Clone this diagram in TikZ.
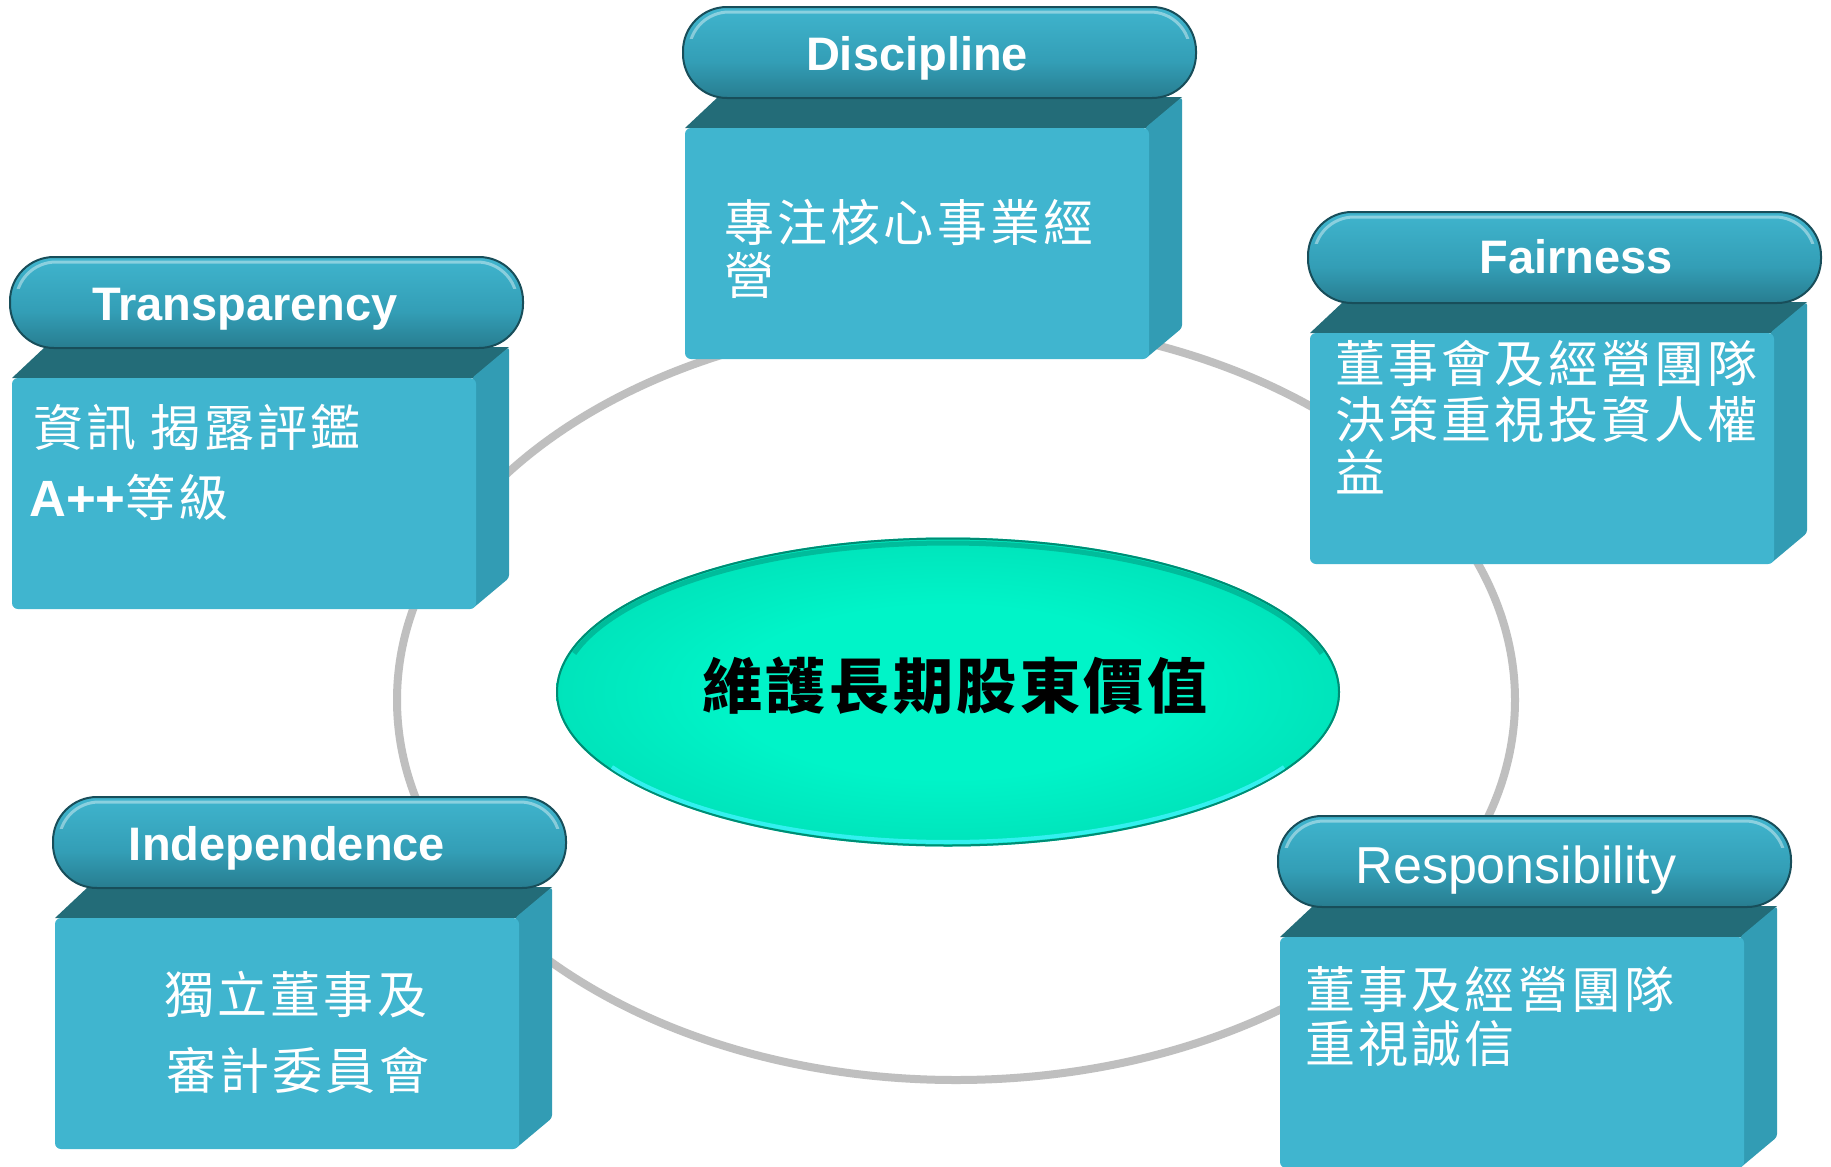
\documentclass[tikz,border=0pt]{standalone}
\usepackage{fontspec}
\setmainfont{Liberation Sans}
\newfontfamily\cjk[LetterSpace=6.5]{Noto Sans CJK TC}
\newfontfamily\cjkc[LetterSpace=6]{Noto Sans CJK TC}
\definecolor{frontc}{HTML}{40B5CF}
\definecolor{topc}{HTML}{236C78}
\definecolor{sidec}{HTML}{329CB4}
\definecolor{pilldark}{HTML}{174B57}
\definecolor{pillbot}{HTML}{216A7A}
\definecolor{pillmid}{HTML}{339EB6}
\definecolor{pillhi}{HTML}{41B7D0}
\definecolor{pilltop}{HTML}{66D6EA}
\definecolor{pilledge}{HTML}{184E5A}
\definecolor{ringc}{HTML}{BFBFBF}
\definecolor{elc}{HTML}{00F4C8}
\definecolor{elm}{HTML}{00D4AE}
\definecolor{eld}{HTML}{00A88A}
\definecolor{elhi}{HTML}{3CF2F8}
\definecolor{elrim}{HTML}{008C74}
\pgfdeclareverticalshading{pillsh}{100bp}{color(0bp)=(pilldark); color(14bp)=(pillbot); color(45bp)=(pillmid); color(78bp)=(pillhi); color(93bp)=(pilltop); color(100bp)=(pillmid)}
\pgfdeclareradialshading{elsh}{\pgfpoint{0bp}{0bp}}{color(0bp)=(elc); color(14bp)=(elc); color(36bp)=(elm); color(46bp)=(eld); color(50bp)=(eld)}
\newcommand\govbox[2]{%
  \fill[topc] (#1,#2) -- ({#1+33},{#2-31}) -- ({#1+497},{#2-31}) -- ({#1+464},#2) -- cycle;
  \fill[sidec, rounded corners=3pt] ({#1+460},#2) -- ({#1+497},{#2-31}) -- ({#1+497},{#2+200}) -- ({#1+460},{#2+231}) -- cycle;
  \fill[frontc, rounded corners=6pt] (#1,#2) rectangle ({#1+464},{#2+231});
  \shadedraw[shading=pillsh, draw=pilledge, line width=2pt, rounded corners=44pt] ({#1-2},{#2-121}) rectangle ({#1+511},{#2-30});
  \begin{scope}
    \clip ({#1-2},{#2-121}) rectangle ({#1+511},{#2-90});
    \draw[white, opacity=.4, line width=3pt, rounded corners=40pt] ({#1+4},{#2-116}) rectangle ({#1+505},{#2-36});
  \end{scope}
}
\tikzset{
  ttl/.style={font=\bfseries\fontsize{47}{50}\selectfont, text=white, inner sep=0pt, anchor=base},
  bt/.style={font=\cjk\fontsize{50}{56}\selectfont, text=white, inner sep=0pt, anchor=west},
  ring/.style={draw=ringc, line width=8pt}
}
\begin{document}
\begin{tikzpicture}[x=1pt, y=-1pt]
\fill[white] (0,0) rectangle (1831,1167);
\useasboundingbox (0,0) rectangle (1831,1167);
% gray ring
\draw[ring] (956,700) ellipse [x radius=559pt, y radius=380pt];
% central ellipse
\shade[shading=elsh] (948,692) ellipse [x radius=392pt, y radius=154.5pt];
\draw[elrim, line width=2pt] (948,692) ellipse [x radius=391pt, y radius=153.5pt];
\draw[elrim, line width=5pt, opacity=.45] plot[domain=195:345, samples=80] ({948+387*cos(\x)},{692+149*sin(\x)});
\draw[elhi, line width=4pt, opacity=.85] plot[domain=30:150, samples=80] ({948+388*cos(\x)},{692+150*sin(\x)});
\node[font=\cjkc\bfseries\fontsize{60}{64}\selectfont, inner sep=0pt, text=black] (core) at (955,686) {維護長期股東價值};
% boxes
\govbox{685}{128}
\govbox{12}{378}
\govbox{1310}{333}
\govbox{55}{918}
\govbox{1280}{937}
% titles
\node[ttl] (hD) at (917,70) {Discipline};
\node[ttl] (hT) at (245,320) {Transparency};
\node[ttl] (hF) at (1576,273) {Fairness};
\node[ttl] (hI) at (287,860) {Independence};
\node[ttl, font=\fontsize{52}{56}\selectfont] (hR) at (1516,883) {Responsibility};
% body texts
\node[bt] (d1) at (724,222) {專注核心事業經};
\node[bt] (d2) at (724,276) {營};
\node[bt] (t1) at (33,427) {資訊 揭露評鑑};
\node[bt] (t2) at (29,497) {{\rmfamily\bfseries\fontsize{51}{54}\selectfont A++}等級};
\node[bt] (f1) at (1335,364) {董事會及經營團隊};
\node[bt] (f2) at (1335,419) {決策重視投資人權};
\node[bt] (f3) at (1335,472) {益};
\node[bt] (i1) at (164,995) {獨立董事及};
\node[bt] (i2) at (166,1070) {審計委員會};
\node[bt] (r1) at (1305,990) {董事及經營團隊};
\node[bt] (r2) at (1305,1044) {重視誠信};
\end{tikzpicture}
\end{document}
